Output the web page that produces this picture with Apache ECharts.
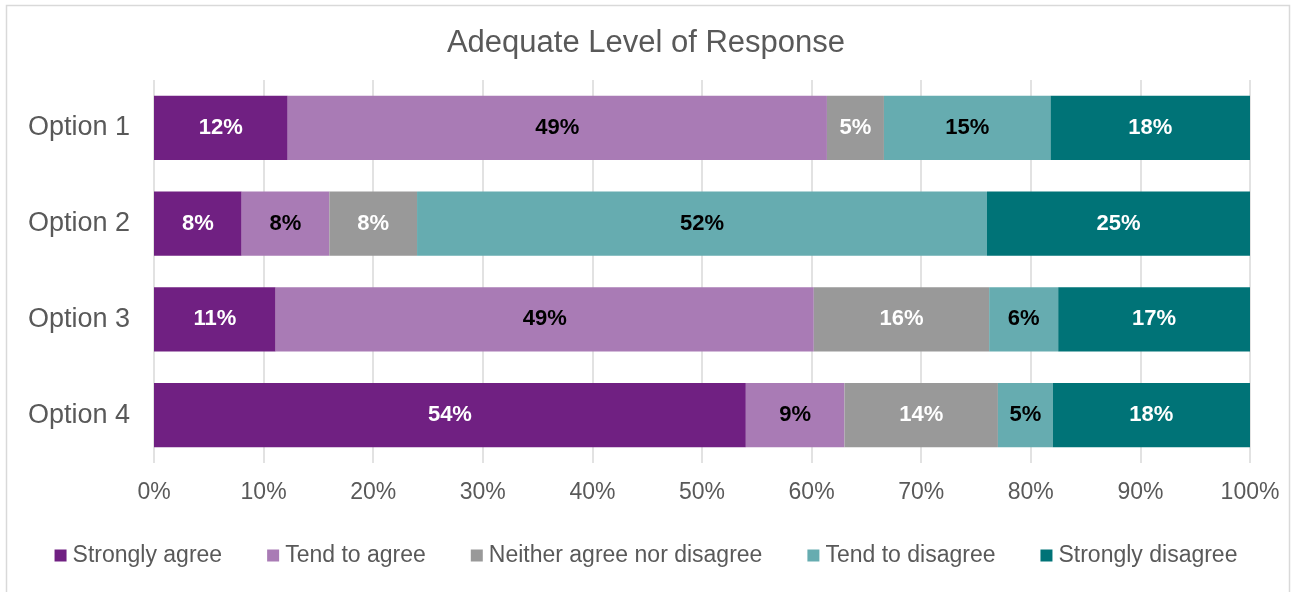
<!DOCTYPE html>
<html><head><meta charset="utf-8">
<script src="https://cdn.jsdelivr.net/npm/echarts@6/dist/echarts.min.js"></script>
<style>html,body{margin:0;padding:0;background:#fff}#c{width:1292px;height:592px}</style>
</head><body><div id="c"></div>
<script>
const categories = ['Option 1', 'Option 2', 'Option 3', 'Option 4'];
const seriesNames = ['Strongly agree', 'Tend to agree', 'Neither agree nor disagree', 'Tend to disagree', 'Strongly disagree'];
// segment sizes (percent)
const stronglyAgree    = [12.2, 8.0, 11.1, 54.0];
const tendToAgree      = [49.2, 8.0, 49.1, 9.0];
const neither          = [5.2, 8.0, 16.0, 14.0];
const tendToDisagree   = [15.2, 52.0, 6.3, 5.0];
const stronglyDisagree = [18.2, 24.0, 17.5, 18.0];
// printed data labels
const labelsSA = ['12%', '8%', '11%', '54%'];
const labelsTA = ['49%', '8%', '49%', '9%'];
const labelsNE = ['5%', '8%', '16%', '14%'];
const labelsTD = ['15%', '52%', '6%', '5%'];
const labelsSD = ['18%', '25%', '17%', '18%'];
const xTickLabels = ['0%', '10%', '20%', '30%', '40%', '50%', '60%', '70%', '80%', '90%', '100%'];

const FONT = "'Liberation Sans', Arial, sans-serif";
const colors = ['#702082', '#A97BB5', '#999999', '#66ACB0', '#007377'];
const labelColors = ['#ffffff', '#000000', '#ffffff', '#000000', '#ffffff'];
const values = [stronglyAgree, tendToAgree, neither, tendToDisagree, stronglyDisagree];
const labels = [labelsSA, labelsTA, labelsNE, labelsTD, labelsSD];

const series = seriesNames.map((name, i) => ({
  name: name,
  type: 'bar',
  stack: 'total',
  barWidth: '67%',
  itemStyle: { color: colors[i] },
  label: {
    show: true,
    position: 'inside',
    color: labelColors[i],
    fontFamily: FONT,
    fontWeight: 'bold',
    fontSize: 22,
    formatter: p => labels[i][p.dataIndex]
  },
  emphasis: { disabled: true },
  data: values[i]
}));

const chart = echarts.init(document.getElementById('c'), null, { renderer: 'canvas' });
chart.setOption({
  animation: false,
  color: colors,
  textStyle: { fontFamily: FONT },
  title: {
    text: 'Adequate Level of Response',
    left: 'center',
    top: 23,
    textStyle: { fontFamily: FONT, fontSize: 31, fontWeight: 'normal', color: '#595959' }
  },
  graphic: [{
    type: 'rect',
    shape: { x: 6.5, y: 5.5, width: 1283, height: 600 },
    style: { fill: 'none', stroke: '#d9d9d9', lineWidth: 1.5 },
    silent: true
  }],
  legend: {
    data: seriesNames,
    left: 'center',
    top: 539,
    itemWidth: 12,
    itemHeight: 12,
    itemGap: 45,
    icon: 'rect',
    textStyle: { fontFamily: FONT, fontSize: 23, color: '#595959', padding: [0, 0, 0, 1] }
  },
  grid: { left: 154, right: 42, top: 80, height: 383, containLabel: false },
  xAxis: {
    type: 'value',
    min: 0,
    max: 100,
    interval: 10,
    axisLine: { show: false },
    axisTick: { show: false },
    splitLine: { show: true, lineStyle: { color: '#d9d9d9', width: 1.5 } },
    axisLabel: {
      fontFamily: FONT, fontSize: 23, color: '#595959', margin: 18,
      formatter: v => xTickLabels[Math.round(v / 10)]
    }
  },
  yAxis: {
    type: 'category',
    data: categories,
    inverse: true,
    axisLine: { show: false },
    axisTick: { show: false },
    splitLine: { show: false },
    axisLabel: { fontFamily: FONT, fontSize: 27, color: '#595959', margin: 24 }
  },
  series: series
});
</script>
</body></html>
